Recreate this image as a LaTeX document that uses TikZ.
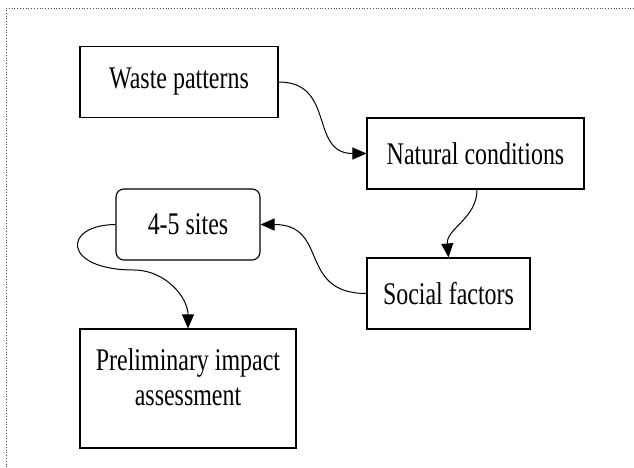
\documentclass[tikz,border=0pt]{standalone}
\usepackage{fontspec}
\setmainfont{Liberation Serif}[FakeStretch=0.76]
\usetikzlibrary{arrows.meta}

\tikzset{
  box/.style={draw, line width=1.1pt, inner sep=0pt},
  link/.style={line width=1pt, -{Triangle[length=14pt, width=12pt]}}
}

\begin{document}
\begin{tikzpicture}[x=1pt, y=-1pt, font=\fontsize{31.5}{35}\selectfont]

% Manually size the picture
\useasboundingbox (0, 0) rectangle (634, 468);

% Dotted frame (top and left only)
\draw[dotted, line width=0.8pt, black!70] (634, 8) -- (6, 8) -- (6, 468);

% Boxes
\node[box, minimum width=198pt, minimum height=71pt] (waste) at (179, 82) {Waste patterns};
\node[box, minimum width=217pt, minimum height=71pt] (natural) at (475.5, 153.5) {Natural conditions};
\node[box, rounded corners=8pt, minimum width=144pt, minimum height=71pt] (sites) at (188, 224.5) {4-5 sites};
\node[box, minimum width=163pt, minimum height=71pt] (social) at (448.5, 293.5) {Social factors};

% Assessment box, text sits in its upper part
\node[box, minimum width=216pt, minimum height=119pt] (prelim) at (188, 388.5) {};
\node[align=center] (prelimtext) at (188, 377) {Preliminary impact\\assessment};

% Connectors
\draw[link] (waste.east) to[out=0, in=180, looseness=1.3] (natural.west);
\draw[link] ([xshift=1.5pt]natural.south) to[out=-90, in=95] (social.north);
\draw[link] (social.west) to[out=180, in=0, looseness=1.4] (sites.east);
\draw[link] (sites.west) .. controls (62, 225) and (62, 270) .. (134, 270)
  to[out=0, in=90] (prelim.north);

\end{tikzpicture}
\end{document}
